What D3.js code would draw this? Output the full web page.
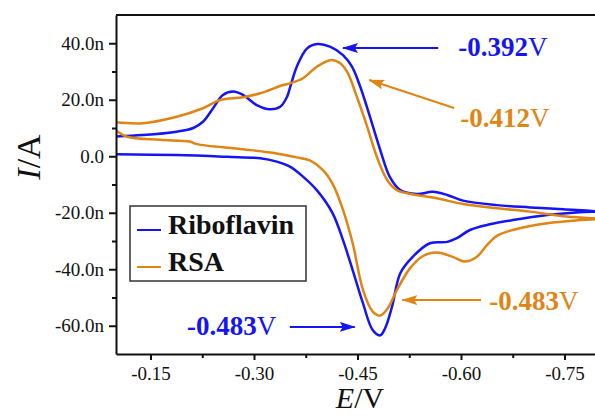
<!DOCTYPE html>
<meta charset="utf-8">
<script src="https://d3js.org/d3.v7.min.js"></script>
<style>
  body { margin: 0; background: #fff; }
  text { font-family: "Liberation Serif", "Times New Roman", serif; }
</style>
<div id="chart"></div>
<script>

// potential (V) and current (nA)
// cathodic sweep: -0.1 -> -0.8 V, anodic sweep: -0.8 -> -0.1 V
var ribCathE = [-0.100, -0.188, -0.261, -0.309, -0.333, -0.352, -0.371, -0.391, -0.414, -0.429, -0.443, -0.458, -0.472, -0.483, -0.490, -0.500, -0.512, -0.530, -0.555, -0.580, -0.594, -0.613, -0.642, -0.675, -0.725, -0.772, -0.800];
var ribCathI = [0.7, 0.4, -0.2, -0.7, -1.9, -3.7, -7.2, -12.0, -20.2, -29.7, -40.3, -52.1, -61.5, -63.4, -60.9, -53.3, -41.4, -35.6, -30.8, -30.3, -29.0, -26.1, -24.1, -22.6, -20.8, -19.8, -19.6];
var ribAnodE = [-0.800, -0.748, -0.700, -0.652, -0.603, -0.580, -0.559, -0.536, -0.512, -0.497, -0.483, -0.468, -0.454, -0.442, -0.429, -0.410, -0.392, -0.377, -0.362, -0.352, -0.348, -0.338, -0.323, -0.304, -0.284, -0.270, -0.255, -0.241, -0.226, -0.212, -0.188, -0.139, -0.100];
var ribAnodI = [-19.6, -18.8, -18.1, -17.3, -15.7, -13.7, -12.6, -13.4, -12.0, -7.4, 2.2, 14.0, 24.6, 31.7, 35.8, 38.8, 39.7, 38.2, 31.7, 24.1, 21.1, 17.5, 16.6, 18.1, 21.7, 22.9, 21.7, 17.1, 12.2, 10.0, 8.7, 7.5, 7.0];

var rsaCathE = [-0.100, -0.116, -0.164, -0.207, -0.217, -0.284, -0.333, -0.362, -0.381, -0.400, -0.414, -0.429, -0.443, -0.458, -0.472, -0.483, -0.494, -0.507, -0.526, -0.545, -0.565, -0.588, -0.606, -0.623, -0.638, -0.652, -0.675, -0.725, -0.772, -0.800];
var rsaCathI = [9.1, 6.9, 5.8, 5.2, 4.3, 2.5, 1.0, -0.4, -1.5, -4.9, -9.8, -19.0, -30.8, -47.4, -55.0, -56.4, -53.8, -47.4, -39.7, -35.3, -34.1, -35.6, -37.3, -35.6, -31.4, -28.2, -26.1, -23.7, -22.6, -22.2];
var rsaAnodE = [-0.800, -0.748, -0.700, -0.652, -0.603, -0.565, -0.522, -0.507, -0.493, -0.478, -0.464, -0.449, -0.436, -0.425, -0.412, -0.391, -0.371, -0.352, -0.342, -0.309, -0.284, -0.251, -0.226, -0.188, -0.139, -0.100];
var rsaAnodI = [-22.2, -21.2, -19.6, -18.4, -16.9, -14.9, -13.1, -12.0, -8.4, -0.2, 10.5, 21.1, 29.4, 32.9, 34.1, 31.7, 27.6, 25.8, 25.2, 22.3, 20.9, 19.9, 17.0, 14.0, 11.7, 12.0];

var seriesNames = ["Riboflavin", "RSA"];
var seriesColors = ["#1414f5", "#e08414"];

var xTicks = [-0.15, -0.30, -0.45, -0.60, -0.75];
var xMinor = [-0.225, -0.375, -0.525, -0.675];
var yTicks = [-60, -40, -20, 0, 20, 40];
var yMinor = [-50, -30, -10, 10, 30];

// peak labels and the series colour they belong to
var peakText  = ["-0.392", "-0.412", "-0.483", "-0.483"];
var peakColor = [0, 1, 1, 0];

function zip(e, i) { return e.map(function(v, k) { return [v, i[k]]; }); }
var curves = [
  zip(ribCathE, ribCathI).concat(zip(ribAnodE, ribAnodI).slice(1)),
  zip(rsaCathE, rsaCathI).concat(zip(rsaAnodE, rsaAnodI).slice(1))
];

var W = 595, H = 416;
var serif = "'Liberation Serif', 'Times New Roman', serif";

var svg = d3.select("#chart").append("svg")
    .attr("width", W)
    .attr("height", H);

var x = d3.scaleLinear().domain([-0.10, -0.80]).range([116, 599]);
var y = d3.scaleLinear().domain([-70, 50]).range([354, 15]);

// arrow heads
var defs = svg.append("defs");
seriesColors.forEach(function(c, k) {
  defs.append("marker")
    .attr("id", "head" + k)
    .attr("markerUnits", "userSpaceOnUse")
    .attr("viewBox", "0 0 16 10")
    .attr("refX", 15).attr("refY", 5)
    .attr("markerWidth", 16).attr("markerHeight", 10)
    .attr("orient", "auto")
    .append("path")
      .attr("d", "M0,0 L16,5 L0,10 L3,5 Z")
      .attr("fill", c);
});

defs.append("clipPath").attr("id", "plotclip")
  .append("rect")
    .attr("x", 116).attr("y", 15)
    .attr("width", 483).attr("height", 339);

// curves
var line = d3.line()
  .x(function(d) { return x(d[0]); })
  .y(function(d) { return y(d[1]); })
  .curve(d3.curveCatmullRom.alpha(0.5));

svg.append("g").attr("clip-path", "url(#plotclip)")
  .selectAll("path")
  .data(curves)
  .enter()
  .append("path")
    .attr("d", line)
    .attr("fill", "none")
    .attr("stroke", function(d, k) { return seriesColors[k]; })
    .attr("stroke-width", 2.5)
    .attr("stroke-linejoin", "round");

// axes
var fmtY = function(d) { return d === 0 ? "0.0" : d.toFixed(1) + "n"; };
var fmtX = function(d) { return d.toFixed(2); };

svg.append("g")
  .attr("transform", "translate(116,0)")
  .call(d3.axisLeft(y).tickValues(yTicks).tickFormat(fmtY).tickSize(7).tickPadding(5).tickSizeOuter(0));
svg.append("g")
  .attr("transform", "translate(116,0)")
  .call(d3.axisLeft(y).tickValues(yMinor).tickFormat("").tickSize(4).tickSizeOuter(0))
  .select(".domain").remove();

svg.append("g")
  .attr("transform", "translate(0,354)")
  .call(d3.axisBottom(x).tickValues(xTicks).tickFormat(fmtX).tickSize(6).tickPadding(7).tickSizeOuter(0));
svg.append("g")
  .attr("transform", "translate(0,354)")
  .call(d3.axisBottom(x).tickValues(xMinor).tickFormat("").tickSize(4).tickSizeOuter(0))
  .select(".domain").remove();

svg.selectAll("g[font-family]").attr("font-family", serif);
svg.selectAll(".tick text")
  .style("font-family", serif)
  .style("font-size", "19px")
  .attr("fill", "#111");
svg.selectAll(".domain, .tick line")
  .attr("stroke", "#111")
  .attr("stroke-width", 2);

// top and right frame
svg.append("path")
  .attr("d", "M" + x(-0.10) + "," + y(50) + "H" + x(-0.80) + "V" + y(-70))
  .attr("fill", "none")
  .attr("stroke", "#111")
  .attr("stroke-width", 2);

// axis titles
var xt = svg.append("text")
  .attr("x", 360).attr("y", 408)
  .attr("text-anchor", "middle")
  .attr("font-size", 30)
  .attr("fill", "#111");
xt.append("tspan").attr("font-style", "italic").text("E");
xt.append("tspan").text("/V");

var yt = svg.append("text")
  .attr("transform", "translate(40,157) rotate(-90)")
  .attr("text-anchor", "middle")
  .attr("font-size", 34)
  .attr("fill", "#111");
yt.append("tspan").attr("font-style", "italic").text("I");
yt.append("tspan").text("/A");

// legend
var lg = svg.append("g");
lg.append("rect")
  .attr("x", 130).attr("y", 206)
  .attr("width", 176).attr("height", 75)
  .attr("fill", "#fff")
  .attr("stroke", "#333")
  .attr("stroke-width", 1.5);
seriesNames.forEach(function(name, k) {
  var yy = 230 + k * 37;
  lg.append("line")
    .attr("x1", 137).attr("x2", 161)
    .attr("y1", yy).attr("y2", yy)
    .attr("stroke", seriesColors[k])
    .attr("stroke-width", 2);
  lg.append("text")
    .attr("x", 168).attr("y", yy + 4)
    .attr("font-size", 28)
    .attr("font-weight", "bold")
    .attr("fill", "#111")
    .text(name);
});

// peak annotations (positions in data units)
var arrows = [
  {from: [-0.567, 38.3], to: [-0.429, 38.3], label: [-0.596, 35.5]},
  {from: [-0.590, 17.1], to: [-0.467, 27.0], label: [-0.599, 10.4]},
  {from: [-0.629, -50.9], to: [-0.515, -50.9], label: [-0.641, -54.4]},
  {from: [-0.352, -60.4], to: [-0.446, -60.4], label: [-0.203, -63.3]}
];

arrows.forEach(function(a, k) {
  var c = peakColor[k];
  svg.append("line")
    .attr("x1", x(a.from[0])).attr("y1", y(a.from[1]))
    .attr("x2", x(a.to[0])).attr("y2", y(a.to[1]))
    .attr("stroke", seriesColors[c])
    .attr("stroke-width", 2)
    .attr("marker-end", "url(#head" + c + ")");
  var t = svg.append("text")
    .attr("x", x(a.label[0])).attr("y", y(a.label[1]))
    .attr("font-size", 27)
    .attr("fill", seriesColors[c]);
  t.append("tspan").attr("font-weight", "bold").text(peakText[k]);
  t.append("tspan").text("V");
});

</script>
